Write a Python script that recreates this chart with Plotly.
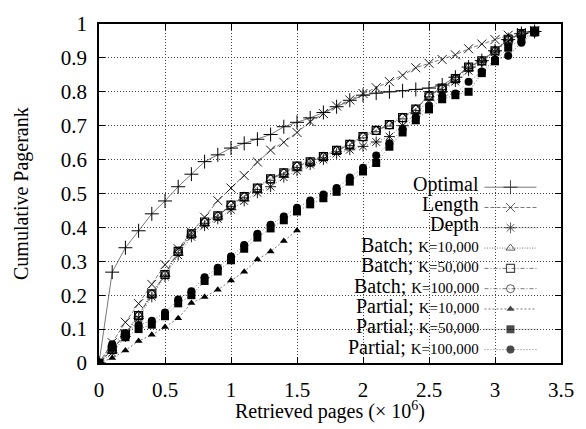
import plotly.graph_objects as go

# ---------------- data ----------------
PAGES = [0.0, 0.1, 0.2, 0.3, 0.4, 0.5, 0.6, 0.7, 0.8, 0.9, 1.0, 1.1, 1.2, 1.3, 1.4, 1.5, 1.6,
         1.7, 1.8, 1.9, 2.0, 2.1, 2.2, 2.3, 2.4, 2.5, 2.6, 2.7, 2.8, 2.9, 3.0, 3.1, 3.2, 3.3]

OPTIMAL = [0, 0.268, 0.34, 0.39, 0.44, 0.478, 0.52, 0.557, 0.594, 0.614, 0.634, 0.648, 0.66,
           0.674, 0.697, 0.71, 0.723, 0.739, 0.756, 0.775, 0.79, 0.796, 0.8, 0.803, 0.807,
           0.811, 0.82, 0.843, 0.873, 0.892, 0.921, 0.954, 0.972, 0.978]

LENGTH = [0, 0.06, 0.12, 0.175, 0.232, 0.29, 0.337, 0.386, 0.43, 0.479, 0.516, 0.553, 0.593,
          0.628, 0.651, 0.68, 0.712, 0.736, 0.758, 0.776, 0.795, 0.812, 0.83, 0.849, 0.871,
          0.884, 0.895, 0.909, 0.927, 0.941, 0.954, 0.967, 0.975, 0.98]

DEPTH = [0, 0.03, 0.078, 0.132, 0.195, 0.255, 0.318, 0.372, 0.405, 0.425, 0.452, 0.478, 0.502,
         0.52, 0.548, 0.567, 0.585, 0.6, 0.618, 0.629, 0.639, 0.652, 0.668, 0.7, 0.735, 0.775,
         0.8, 0.83, 0.862, 0.889, 0.918, 0.95, 0.97, 0.978]

BATCH_10K = [0, 0.042, 0.088, 0.143, 0.206, 0.263, 0.331, 0.383, 0.418, 0.436, 0.468, 0.493,
             0.518, 0.545, 0.563, 0.583, 0.595, 0.611, 0.629, 0.647, 0.67, 0.688, 0.705, 0.726,
             0.751, 0.791, 0.813, 0.841, 0.875, 0.893, 0.923, 0.957, 0.973, 0.979]

BATCH_50K = [0, 0.04, 0.085, 0.14, 0.204, 0.261, 0.329, 0.381, 0.416, 0.434, 0.466, 0.491,
             0.516, 0.543, 0.561, 0.581, 0.593, 0.609, 0.627, 0.645, 0.668, 0.686, 0.703, 0.724,
             0.749, 0.789, 0.811, 0.839, 0.873, 0.891, 0.921, 0.955, 0.972, 0.979]

BATCH_100K = [0, 0.039, 0.084, 0.139, 0.203, 0.26, 0.328, 0.38, 0.415, 0.433, 0.465, 0.49,
              0.515, 0.542, 0.56, 0.58, 0.592, 0.608, 0.626, 0.644, 0.667, 0.685, 0.702, 0.723,
              0.748, 0.788, 0.81, 0.838, 0.872, 0.89, 0.92, 0.954, 0.971, 0.979]

PARTIAL_10K = [0, 0.015, 0.037, 0.065, 0.083, 0.106, 0.132, 0.177, 0.195, 0.216, 0.243, 0.269,
               0.305, 0.329, 0.36, 0.391]

PARTIAL_50K = [0, 0.045, 0.076, 0.1, 0.113, 0.138, 0.176, 0.2, 0.242, 0.27, 0.303, 0.337,
               0.37, 0.397, 0.421, 0.447, 0.468, 0.486, 0.505, 0.535, 0.565, 0.59, 0.638, 0.68,
               0.716, 0.748, 0.778, 0.79, 0.8, 0.855, 0.89, 0.93, 0.955, 0.975]

PARTIAL_100K = [0, 0.055, 0.087, 0.112, 0.125, 0.149, 0.187, 0.212, 0.253, 0.281, 0.314,
                0.348, 0.381, 0.408, 0.432, 0.458, 0.479, 0.497, 0.516, 0.547, 0.576, 0.612,
                0.648, 0.69, 0.726, 0.758, 0.788, 0.795, 0.83, 0.86, 0.895, 0.906, 0.945, 0.975]

SERIES_LABELS = ["Optimal", "Length", "Depth",
                 "Batch; <span style='font-size:15px'>K=10,000</span>",
                 "Batch; <span style='font-size:15px'>K=50,000</span>",
                 "Batch; <span style='font-size:15px'>K=100,000</span>",
                 "Partial; <span style='font-size:15px'>K=10,000</span>",
                 "Partial; <span style='font-size:15px'>K=50,000</span>",
                 "Partial; <span style='font-size:15px'>K=100,000</span>"]

X_TICKS = [0, 0.5, 1, 1.5, 2, 2.5, 3, 3.5]
X_TICK_TEXT = ["0", "0.5", "1", "1.5", "2", "2.5", "3", "3.5"]
Y_TICKS = [0, 0.1, 0.2, 0.3, 0.4, 0.5, 0.6, 0.7, 0.8, 0.9, 1]
Y_TICK_TEXT = ["0", "0.1", "0.2", "0.3", "0.4", "0.5", "0.6", "0.7", "0.8", "0.9", "1"]

# ---------------- styles ----------------
FONT = "Liberation Serif"
LINE_COLOR = "#555555"
STYLES = [
    dict(symbol="cross-thin", size=10, dash="solid", lw=1.0),
    dict(symbol="x-thin", size=9, dash="4px,2px", lw=0.9),
    dict(symbol="asterisk", size=9, dash="1px,2px", lw=0.9),
    dict(symbol="triangle-up-open", size=8, dash="1px,1.5px", lw=0.9),
    dict(symbol="square-open", size=8, dash="4px,2px,1px,2px", lw=1.2),
    dict(symbol="circle-open", size=8, dash="4px,2px,1px,2px", lw=0.9),
    dict(symbol="triangle-up", size=7, dash="2px,2px", lw=0),
    dict(symbol="square", size=8, dash="1px,2px", lw=0),
    dict(symbol="circle", size=8, dash="1px,2px", lw=0),
]

series_y = [OPTIMAL, LENGTH, DEPTH, BATCH_10K, BATCH_50K, BATCH_100K,
            PARTIAL_10K, PARTIAL_50K, PARTIAL_100K]

fig = go.Figure()

for ys, st in zip(series_y, STYLES):
    fig.add_trace(go.Scatter(
        x=PAGES[:len(ys)], y=ys, mode="lines+markers", showlegend=False,
        line=dict(color=LINE_COLOR, width=0.8, dash=st["dash"]),
        marker=dict(symbol=st["symbol"], size=st["size"], color="black",
                    line=dict(color="black", width=st["lw"])),
        hoverinfo="skip"))

# ---------------- custom key (text left, sample right) ----------------
W, H = 586, 429
L, R, T, B = 99, 16, 14, 66
PW, PH = W - L - R, H - T - B


def px_x(p):
    return (p - L) / PW


def px_y(p):
    return (H - B - p) / PH


row0, row_step = 179, 20.9
samp_x0, samp_xm, samp_x1 = px_x(492), px_x(518.5), px_x(545)
text_x = px_x(488)
annotations = []
for i, (lab, st) in enumerate(zip(SERIES_LABELS, STYLES)):
    yy = px_y(row0 + i * row_step)
    annotations.append(dict(text=lab, x=text_x, y=yy, xref="paper", yref="paper",
                            xanchor="right", yanchor="middle", showarrow=False,
                            font=dict(family=FONT, size=20, color="black")))
    ys_ = px_y(row0 + 3 + i * row_step)
    fig.add_trace(go.Scatter(
        x=[samp_x0, samp_xm, samp_x1], y=[ys_, ys_, ys_], xaxis="x2", yaxis="y2",
        mode="lines+markers", showlegend=False, hoverinfo="skip",
        line=dict(color=LINE_COLOR, width=0.8, dash=st["dash"]),
        marker=dict(symbol=st["symbol"], size=[0, st["size"], 0], color="black",
                    line=dict(color="black", width=st["lw"]))))

# axis titles
annotations.append(dict(text="Retrieved pages (× 10<sup>6</sup>)", x=0.5, y=px_y(412),
                        xref="paper", yref="paper", xanchor="center", yanchor="middle",
                        showarrow=False, font=dict(family=FONT, size=20, color="black")))
annotations.append(dict(text="Cumulative Pagerank", x=px_x(20), y=0.5, textangle=-90,
                        xref="paper", yref="paper", xanchor="center", yanchor="middle",
                        showarrow=False, font=dict(family=FONT, size=20, color="black")))

# white patch hiding the grid behind the (wide) gnuplot key box
shapes = [dict(type="rect", xref="paper", yref="paper", x0=px_x(175), x1=px_x(558),
               y0=0, y1=px_y(170), fillcolor="white", line=dict(width=0), layer="between")]

axis_common = dict(showline=True, linecolor="black", linewidth=1.5, mirror="ticks",
                   ticks="inside", ticklen=6, tickcolor="black", tickwidth=1,
                   showgrid=True, gridcolor="#444444", griddash="1px,2px", gridwidth=1,
                   zeroline=False, tickfont=dict(family=FONT, size=21, color="black"))

fig.update_layout(
    width=W, height=H, margin=dict(l=L, r=R, t=T, b=B),
    paper_bgcolor="white", plot_bgcolor="white",
    xaxis=dict(range=[0, 3.5], tickvals=X_TICKS, ticktext=X_TICK_TEXT,
               ticklabelstandoff=7, **axis_common),
    yaxis=dict(range=[0, 1], tickvals=Y_TICKS, ticktext=Y_TICK_TEXT,
               ticklabelstandoff=6, **axis_common),
    xaxis2=dict(range=[0, 1], overlaying="x", visible=False, showgrid=False),
    yaxis2=dict(range=[0, 1], overlaying="y", visible=False, showgrid=False),
    annotations=annotations, shapes=shapes, showlegend=False,
)

fig.write_html("out.html", config={"displayModeBar": False},
               post_script="document.body.style.margin='0px';"
                           "document.body.style.overflow='hidden';")
